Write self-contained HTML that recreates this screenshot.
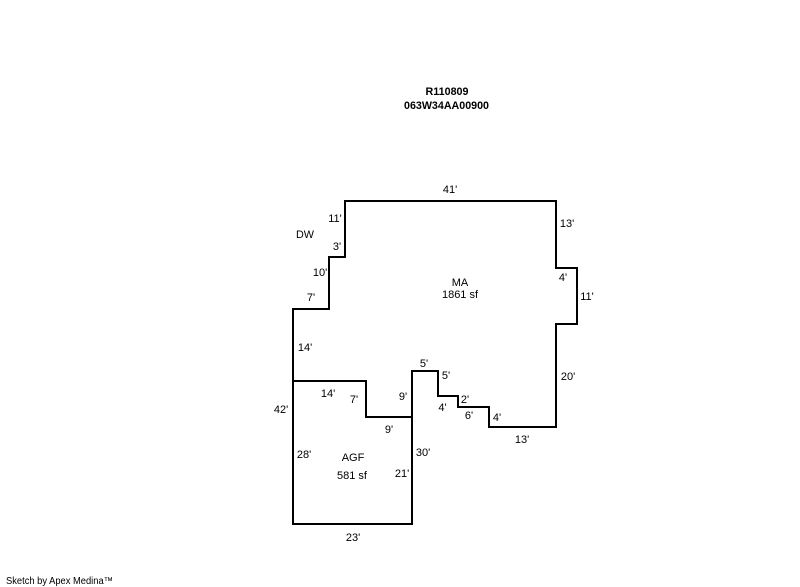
<!DOCTYPE html>
<html>
<head>
<meta charset="utf-8">
<style>
html,body{margin:0;padding:0;background:#fff;width:800px;height:587px;overflow:hidden}
svg{display:block}
text{font-family:"Liberation Sans",sans-serif;font-size:11px;fill:#000}
.b{font-weight:bold;text-anchor:middle}
.c{text-anchor:middle}
</style>
</head>
<body>
<svg width="800" height="587" viewBox="0 0 800 587" xmlns="http://www.w3.org/2000/svg">
<g fill="none" stroke="#000" stroke-width="2" shape-rendering="crispEdges" stroke-linecap="square">
<path d="M293 309H329V257H345V201H556V268H577V324H556V427H489V407H458V396H438V371H412V524H293Z"/>
<path d="M293 381H366V417H412"/>
</g>
<text class="b" x="447" y="95" textLength="43" lengthAdjust="spacingAndGlyphs">R110809</text>
<text class="b" x="446.5" y="109" textLength="85" lengthAdjust="spacingAndGlyphs">063W34AA00900</text>
<text class="c" x="450" y="193">41'</text>
<text class="c" x="567" y="227">13'</text>
<text class="c" x="563" y="281">4'</text>
<text class="c" x="587" y="300">11'</text>
<text class="c" x="568" y="380">20'</text>
<text class="c" x="522" y="443">13'</text>
<text class="c" x="497" y="421">4'</text>
<text class="c" x="469" y="419">6'</text>
<text class="c" x="465" y="403">2'</text>
<text class="c" x="442.5" y="411">4'</text>
<text class="c" x="446" y="379">5'</text>
<text class="c" x="424" y="367">5'</text>
<text class="c" x="423" y="456">30'</text>
<text class="c" x="402" y="477">21'</text>
<text class="c" x="403" y="400">9'</text>
<text class="c" x="389" y="433">9'</text>
<text class="c" x="354" y="403">7'</text>
<text class="c" x="328" y="397">14'</text>
<text class="c" x="304" y="458">28'</text>
<text class="c" x="281" y="413">42'</text>
<text class="c" x="305" y="351">14'</text>
<text class="c" x="311" y="301">7'</text>
<text class="c" x="320" y="276">10'</text>
<text class="c" x="337" y="250">3'</text>
<text class="c" x="335" y="222">11'</text>
<text class="c" x="305" y="238" textLength="18" lengthAdjust="spacingAndGlyphs">DW</text>
<text class="c" x="460" y="286">MA</text>
<text class="c" x="460" y="298">1861 sf</text>
<text class="c" x="353" y="461">AGF</text>
<text class="c" x="352" y="479">581 sf</text>
<text class="c" x="353" y="541">23'</text>
<text x="6" y="584" style="font-size:10px" textLength="107" lengthAdjust="spacingAndGlyphs">Sketch by Apex Medina™</text>
</svg>
</body>
</html>
